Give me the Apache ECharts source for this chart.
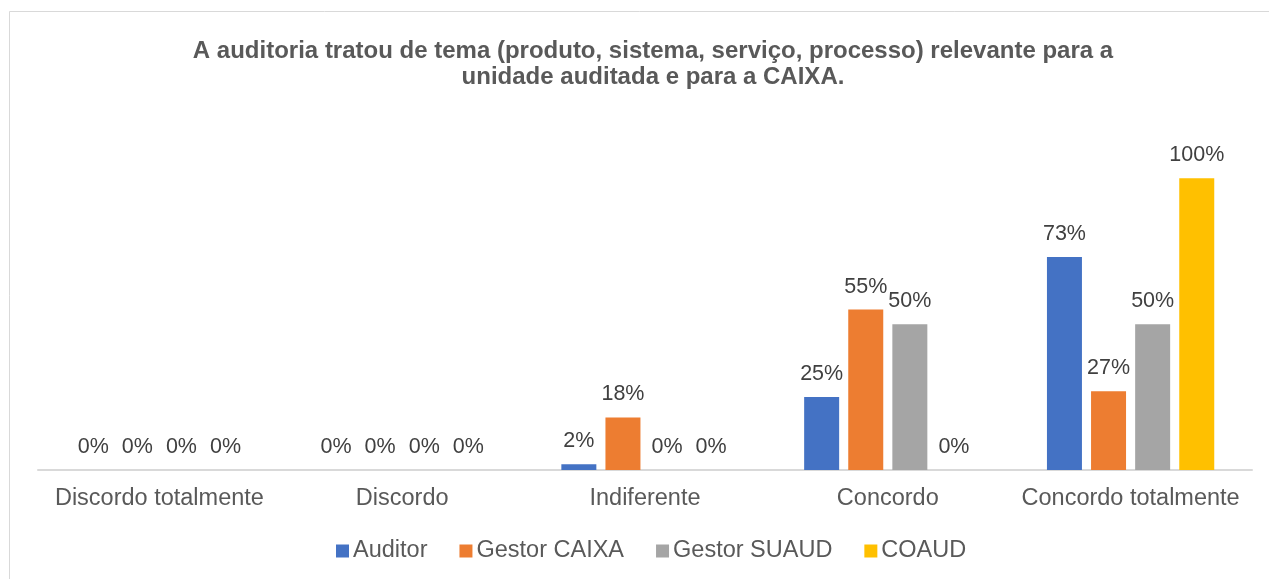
<!DOCTYPE html>
<html lang="pt" style="height: 100%">
<head>
  <meta charset="utf-8">
</head>
<body style="height: 100%; margin: 0; background: #fff">
  <div id="container" style="width: 1269px; height: 579px"></div>
  <script src="https://cdn.jsdelivr.net/npm/echarts@6/dist/echarts.min.js"></script>
  <script>
    var categories = ['Discordo totalmente', 'Discordo', 'Indiferente', 'Concordo', 'Concordo totalmente'];
    var auditor = [0, 0, 2, 25, 73];
    var gestorCaixa = [0, 0, 18, 55, 27];
    var gestorSuaud = [0, 0, 0, 50, 50];
    var coaud = [0, 0, 0, 0, 100];
    var seriesNames = ['Auditor', 'Gestor CAIXA', 'Gestor SUAUD', 'COAUD'];
    var colors = ['#4472c4', '#ed7d31', '#a5a5a5', '#ffc000'];

    var font = '"Liberation Sans", Arial, sans-serif';
    var myChart = echarts.init(document.getElementById('container'), null, { renderer: 'canvas' });

    function makeSeries(name, data, color) {
      return {
        name: name,
        type: 'bar',
        data: data,
        barWidth: 35,
        barGap: '26%',
        itemStyle: { color: color },
        label: {
          show: true,
          position: 'top',
          distance: 12,
          formatter: '{c}%',
          color: '#404040',
          fontFamily: font,
          fontSize: 21.5
        }
      };
    }

    var option = {
      backgroundColor: '#fff',
      animation: false,
      color: colors,
      title: {
        text: 'A auditoria tratou de tema (produto, sistema, serviço, processo) relevante para a\nunidade auditada e para a CAIXA.',
        left: 648,
        textAlign: 'center',
        top: 33,
        textStyle: {
          fontFamily: font,
          fontSize: 24,
          fontWeight: 'bold',
          color: '#595959',
          lineHeight: 26
        }
      },
      legend: {
        bottom: 11,
        left: 331,
        icon: 'rect',
        itemWidth: 13,
        itemHeight: 13,
        itemGap: 32,
        textStyle: { fontFamily: font, fontSize: 23.5, color: '#595959', padding: [0, 0, 0, -1] },
        data: seriesNames
      },
      grid: { left: 38, right: 17, top: 120, bottom: 109, containLabel: false },
      xAxis: {
        type: 'category',
        data: categories,
        axisLine: { lineStyle: { color: '#d9d9d9', width: 2 } },
        axisTick: { show: false },
        axisLabel: { interval: 0, fontFamily: font, fontSize: 23.5, color: '#595959', margin: 17 }
      },
      yAxis: {
        type: 'value',
        min: 0,
        max: 120,
        show: false,
        splitLine: { show: false }
      },
      graphic: [{
        type: 'rect',
        shape: { x: 9.5, y: 11.5, width: 1270, height: 580 },
        style: { fill: 'none', stroke: '#d9d9d9', lineWidth: 1 },
        silent: true
      }],
      series: [
        makeSeries(seriesNames[0], auditor, colors[0]),
        makeSeries(seriesNames[1], gestorCaixa, colors[1]),
        makeSeries(seriesNames[2], gestorSuaud, colors[2]),
        makeSeries(seriesNames[3], coaud, colors[3])
      ]
    };

    myChart.setOption(option);
    window.addEventListener('resize', myChart.resize);
  </script>
</body>
</html>
